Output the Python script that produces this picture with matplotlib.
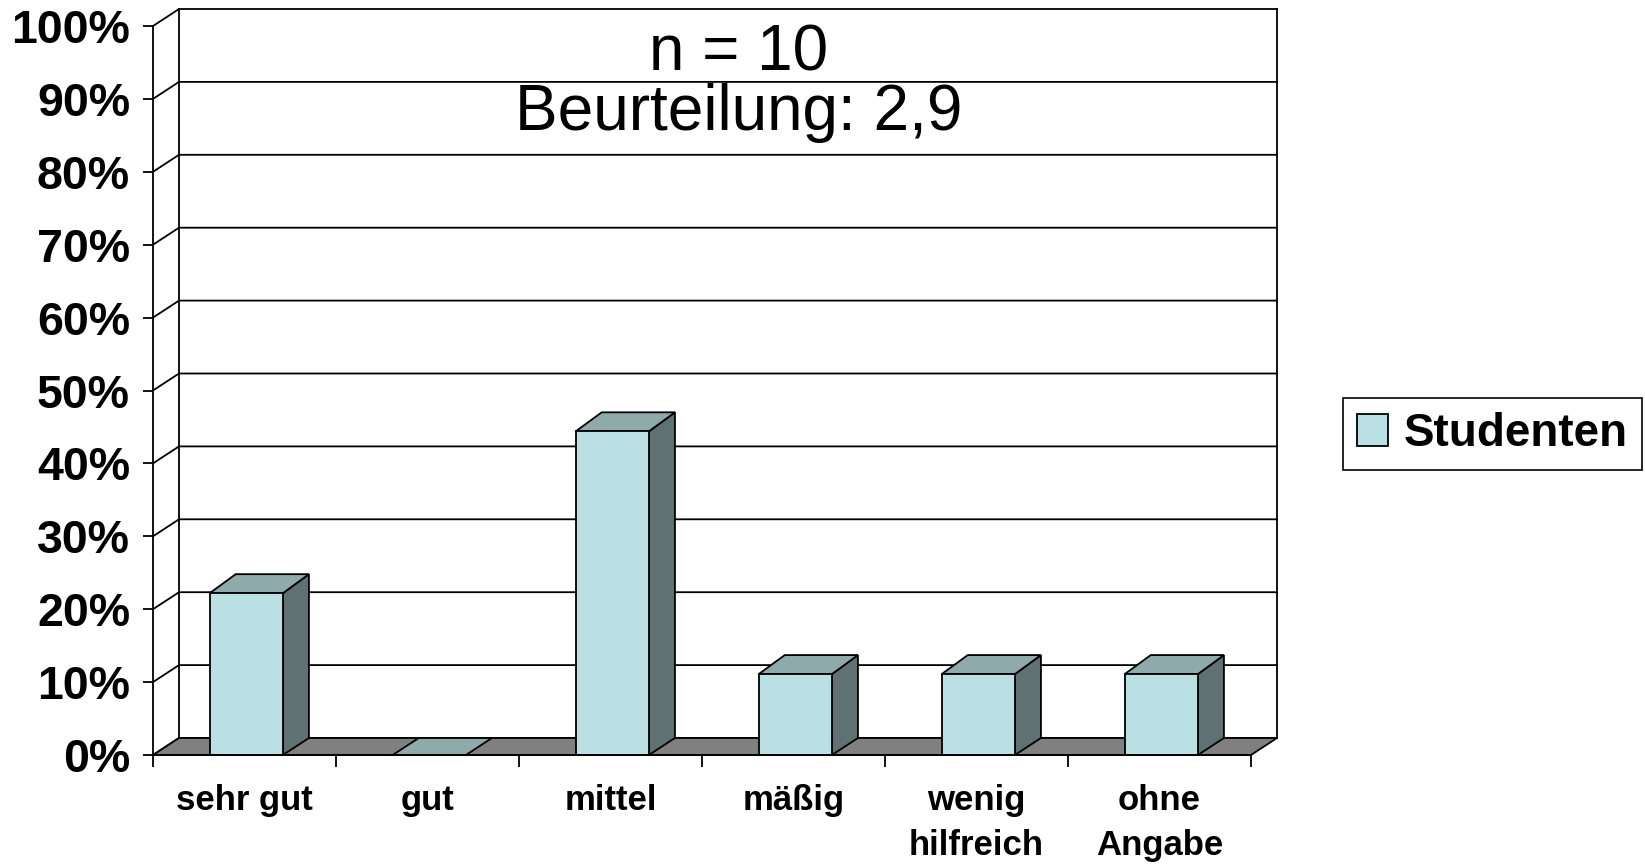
import matplotlib.pyplot as plt
from matplotlib.patches import Polygon

# values (percent of answers)
categories = ["sehr gut", "gut", "mittel", "mäßig", "wenig\nhilfreich", "ohne\nAngabe"]
studenten = [22.2, 0.0, 44.4, 11.1, 11.1, 11.1]
y_ticks = [0, 10, 20, 30, 40, 50, 60, 70, 80, 90, 100]
y_labels = [f"{t}%" for t in y_ticks]

front_col = "#bbe0e3"
top_col = "#8eaaab"
side_col = "#5f7173"
floor_col = "#808080"

plt.rcParams['font.family'] = ['Liberation Sans', 'DejaVu Sans']

fig = plt.figure(figsize=(16.45, 8.64), dpi=100)
W, H = 1645, 864
ax = fig.add_axes([153 / W, (H - 755) / H, (1251 - 153) / W, (755 - 26) / H])
n = len(categories)
ax.set_xlim(0, n)
ax.set_ylim(0, 100)

# depth offset of the 3d look, in data units
dx = 26 / 183
dy = 17 / 7.29
bdy = 19 / 7.29
lw = 1.3

# back wall + side wall gridlines
for t in y_ticks:
    ax.plot([0, dx, n + dx], [t, t + dy, t + dy], color="black", lw=lw, clip_on=False, zorder=1)
ax.plot([dx, dx], [dy, 100 + dy], color="black", lw=lw, clip_on=False, zorder=1)
ax.plot([n + dx, n + dx], [dy, 100 + dy], color="black", lw=lw, clip_on=False, zorder=1)

# floor
ax.add_patch(Polygon([(0, 0), (n, 0), (n + dx, dy), (dx, dy)], closed=True,
                     facecolor=floor_col, edgecolor="black", lw=lw, clip_on=False, zorder=2))

# bars
bw = 0.40
for i, v in enumerate(studenten):
    x0 = i + 0.31
    x1 = x0 + bw
    if v > 0:
        ax.add_patch(Polygon([(x1, 0), (x1 + dx, dy), (x1 + dx, v + bdy), (x1, v)], closed=True,
                             facecolor=side_col, edgecolor="black", lw=lw, clip_on=False, zorder=3))
        ax.add_patch(Polygon([(x0, v), (x1, v), (x1 + dx, v + bdy), (x0 + dx, v + bdy)], closed=True,
                             facecolor=top_col, edgecolor="black", lw=lw, clip_on=False, zorder=3))
    else:
        ax.add_patch(Polygon([(x0, v), (x1, v), (x1 + dx, v + dy), (x0 + dx, v + dy)], closed=True,
                             facecolor=top_col, edgecolor="black", lw=lw, clip_on=False, zorder=3))
ax.bar([i + 0.31 for i in range(n)], studenten, width=bw, align="edge",
       color=front_col, edgecolor="black", lw=lw, zorder=4, label="Studenten", clip_on=False)

# axes styling
for s in ["top", "right"]:
    ax.spines[s].set_visible(False)
ax.spines["left"].set_linewidth(lw)
ax.spines["bottom"].set_linewidth(lw)
ax.spines["bottom"].set_zorder(5)
ax.patch.set_visible(False)

ax.set_yticks(y_ticks)
ax.set_yticklabels(y_labels, fontsize=33.5, fontweight="bold")
ax.tick_params(axis="y", direction="out", length=7.5, width=lw, pad=9)

ax.set_xticks(range(n + 1))
ax.set_xticklabels([])
ax.tick_params(axis="x", which="major", direction="out", length=8.5, width=lw)
ax.set_xticks([i + 0.5 for i in range(n)], minor=True)
ax.set_xticklabels(categories, minor=True, fontsize=25, fontweight="bold", linespacing=1.45)
ax.tick_params(axis="x", which="minor", length=0, pad=21)

ax.text(3.2, 96.2, "n = 10", fontsize=46, ha="center", va="center")
ax.text(3.2, 88.0, "Beurteilung: 2,9", fontsize=46, ha="center", va="center")

leg = fig.legend(loc="center left", bbox_to_anchor=(1343 / W, (H - 434) / H),
                 prop={"weight": "bold", "size": 33}, frameon=True, fancybox=False,
                 edgecolor="black", framealpha=1, handlelength=0.68, handleheight=0.68,
                 borderpad=0.3, handletextpad=0.35, borderaxespad=0)
leg.get_frame().set_linewidth(1.2)

fig.savefig("out.png", dpi=100)
